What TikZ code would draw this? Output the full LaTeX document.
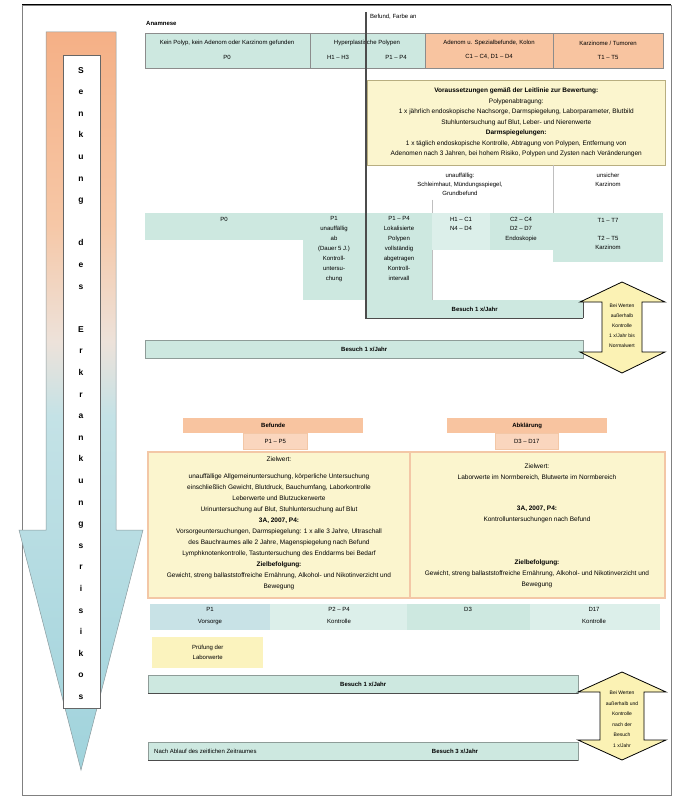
\documentclass[tikz,border=0pt]{standalone}
\usepackage{fontspec}
\setmainfont{Liberation Sans}
\usetikzlibrary{positioning,calc}

\definecolor{tealcell}{HTML}{CDE8E0}
\definecolor{tealpale}{HTML}{DCEFEA}
\definecolor{tealblue}{HTML}{C8E2E6}
\definecolor{peach}{HTML}{F8C4A0}
\definecolor{peachpale}{HTML}{FAD6BE}
\definecolor{cream}{HTML}{FBF5CE}
\definecolor{creamline}{HTML}{B8AE80}
\definecolor{salmon}{HTML}{F3C7A6}
\definecolor{notepale}{HTML}{FBF3BE}
\definecolor{arrowyellow}{HTML}{FBF2B4}
\definecolor{framegray}{HTML}{8E9C98}
\definecolor{arrowline}{HTML}{8A9A9E}
\definecolor{riskorange}{HTML}{F5B086}
\definecolor{riskpeach}{HTML}{F6C7A6}
\definecolor{riskpale}{HTML}{EDE2DA}
\definecolor{riskblue}{HTML}{C4E2E6}
\definecolor{riskdeep}{HTML}{A0D3DC}

\pgfdeclareverticalshading{riskfade}{100bp}{color(0bp)=(riskdeep); color(25bp)=(riskdeep); color(49bp)=(riskblue); color(54bp)=(riskpale); color(62bp)=(riskpeach); color(75bp)=(riskorange); color(100bp)=(riskorange)}

\begin{document}
\begin{tikzpicture}[x=1pt,y=-1pt,
    lbl/.style={font=\fontsize{6}{10.5}\selectfont,inner sep=0pt,align=center},
    band/.style={fill=tealcell,draw=framegray,line width=0.4pt},
    peachcell/.style={fill=peach,draw=framegray,line width=0.4pt},
    note/.style={lbl,fill=cream,draw=creamline,line width=0.5pt},
    bignote/.style={fill=cream,draw=salmon,line width=1.2pt},
    sep/.style={draw=black!25,line width=0.4pt},
    bar/.style={draw=black!70,line width=1.5pt},
    twoway/.style={fill=arrowyellow,draw=black,line width=0.8pt}]

    \useasboundingbox (0,0) rectangle (677,799);
    \fill[white] (0,0) rectangle (677,799);
    \draw[black!50,line width=0.5pt] (22,5) rectangle (671,795);
    \draw[black,line width=1pt] (22,5) -- (671,5);

    % risk arrow on the left
    \shadedraw[shading=riskfade,draw=arrowline,line width=0.5pt] (46,32) -- (116,32) -- (116,530) -- (143,530) -- (81,770) -- (19,530) -- (46,530) -- cycle;
    \draw[fill=white,draw=black!60,line width=0.4pt] (63,55) rectangle (100,708);
    \node[font=\fontsize{8.5}{21.6}\selectfont\bfseries,align=center,inner sep=0pt,anchor=north] (risk) at (81,67)
        {S\\e\\n\\k\\u\\n\\g\\~\\d\\e\\s\\~\\E\\r\\k\\r\\a\\n\\k\\u\\n\\g\\s\\r\\i\\s\\i\\k\\o\\s};

    % first row
    \node[lbl,anchor=west,font=\fontsize{6}{8}\selectfont\bfseries] (anamnese) at (146,23) {Anamnese};
    \node[lbl,anchor=west] (befund) at (370,17) {Befund, Farbe an};
    \draw[band,draw=black!45] (145,33) rectangle (425,68);
    \draw[peachcell,draw=black!45] (425,33) rectangle (663,68);
    \draw[draw=black!45] (310,33) -- (310,68);
    \draw[draw=black!45] (553,33) -- (553,68);
    \node[lbl] (keinPolyp) at (227,43) {Kein Polyp, kein Adenom oder Karzinom gefunden};
    \node[lbl] (pNull) at (227,57) {P0};
    \node[lbl] (hyper) at (367,43) {Hyperplastische Polypen};
    \node[lbl] (hRange) at (338,57) {H1 -- H3};
    \node[lbl] (pRange) at (396,57) {P1 -- P4};
    \node[lbl] (adenom) at (489,43) {Adenom u. Spezialbefunde, Kolon};
    \node[lbl] (cRange) at (489,57) {C1 -- C4, D1 -- D4};
    \node[lbl] (tumor) at (608,43) {Karzinome / Tumoren};
    \node[lbl] (tRange) at (608,57) {T1 -- T5};

    % guideline note
    \node[note,font=\fontsize{6.5}{10.5}\selectfont,minimum width=298pt,minimum height=85pt,anchor=north west] (advice) at (367,80)
        {\textbf{Voraussetzungen gemäß der Leitlinie zur Bewertung:}\\
         Polypenabtragung:\\
         1 x jährlich endoskopische Nachsorge, Darmspiegelung, Laborparameter, Blutbild\\
         Stuhluntersuchung auf Blut, Leber- und Nierenwerte\\
         \textbf{Darmspiegelungen:}\\
         1 x täglich endoskopische Kontrolle, Abtragung von Polypen, Entfernung von\\
         Adenomen nach 3 Jahren, bei hohem Risiko, Polypen und Zysten nach Veränderungen};
    \node[lbl,anchor=north] (unauff) at (460,173) {unauffällig:\\[-1.5pt]Schleimhaut, Mündungsspiegel,\\[-1.5pt]Grundbefund};
    \node[lbl,anchor=north] (unsicher) at (608,173) {unsicher\\[-1.5pt]Karzinom};
    \draw[sep] (553,165) -- (553,262);
    \draw[sep] (432,200) -- (432,300);

    % second row
    \draw[band,draw=none] (145,213) rectangle (303,240);
    \draw[band,draw=none] (303,213) rectangle (366,300);
    \draw[band,draw=none] (366,213) rectangle (432,300);
    \draw[band,draw=none,fill=tealpale] (432,213) rectangle (490,250);
    \draw[band,draw=none] (490,213) rectangle (553,250);
    \draw[band,draw=none] (553,213) rectangle (663,262);
    \node[lbl] (pNullB) at (224,219) {P0};
    \node[lbl,anchor=north,font=\fontsize{6}{10}\selectfont] (pOne) at (334,216)
        {P1\\unauffällig\\ab\\(Dauer 5 J.)\\Kontroll-\\untersu-\\chung};
    \node[lbl,anchor=north,font=\fontsize{6}{10}\selectfont] (pFour) at (399,216)
        {P1 -- P4\\Lokalisierte\\Polypen\\vollständig\\abgetragen\\Kontroll-\\intervall};
    \node[lbl,anchor=north,font=\fontsize{6}{9}\selectfont] (hcRange) at (461,217) {H1 -- C1\\N4 -- D4};
    \node[lbl,anchor=north,font=\fontsize{6}{9.5}\selectfont] (cdRange) at (521,217) {C2 -- C4\\D2 -- D7\\Endoskopie};
    \node[lbl] (tSeven) at (608,220) {T1 -- T7};
    \node[lbl,anchor=north,font=\fontsize{6}{9.5}\selectfont] (tFive) at (608,236) {T2 -- T5\\Karzinom};

    % yearly visits
    \coordinate (barTop) at (366,12);
    \node[lbl,font=\fontsize{6}{8}\selectfont\bfseries,fill=tealcell,minimum width=217pt,minimum height=18pt,anchor=north west] (visitA) at (366,300) {Besuch 1 x/Jahr};
    \draw[bar] (barTop) -- (visitA.south west) -- (visitA.south east);
    \draw[black!70,line width=0.8pt] (visitA.south east) -- (visitA.north east);
    \node[lbl,font=\fontsize{6}{8}\selectfont\bfseries,band,minimum width=438pt,minimum height=18pt,anchor=north west] (visitB) at (145,340) {Besuch 1 x/Jahr};

    \draw[twoway] (622,282) -- (665,302) -- (642,302) -- (642,352) -- (665,352) -- (622,373) -- (580,352) -- (602,352) -- (602,302) -- (580,302) -- cycle;
    \node[lbl,font=\fontsize{5}{10}\selectfont] (hintA) at (622,326) {Bei Werten\\außerhalb\\Kontrolle\\1 x/Jahr bis\\Normalwert};

    % lower part
    \node[lbl,font=\fontsize{6}{8}\selectfont\bfseries,fill=peach,minimum width=180pt,minimum height=15pt,anchor=north west] (befundeHead) at (183,418) {Befunde};
    \node[lbl,fill=peachpale,draw=salmon,minimum width=64pt,minimum height=16pt,anchor=north west] (befundeSub) at (243,433) {P1 -- P5};
    \node[lbl,font=\fontsize{6}{8}\selectfont\bfseries,fill=peach,minimum width=160pt,minimum height=15pt,anchor=north west] (abklHead) at (447,418) {Abklärung};
    \node[lbl,fill=peachpale,draw=salmon,minimum width=63pt,minimum height=16pt,anchor=north west] (abklSub) at (495,433) {D3 -- D17};

    \draw[bignote] (148,452) rectangle (410,598);
    \draw[bignote] (410,452) rectangle (665,598);
    \node[lbl,font=\fontsize{6.5}{11}\selectfont,anchor=north] (goalsLeft) at (279,457)
        {Zielwert:\\[6pt]
         unauffällige Allgemeinuntersuchung, körperliche Untersuchung\\
         einschließlich Gewicht, Blutdruck, Bauchumfang, Laborkontrolle\\
         Leberwerte und Blutzuckerwerte\\
         Urinuntersuchung auf Blut, Stuhluntersuchung auf Blut\\
         \textbf{3A, 2007, P4:}\\
         Vorsorgeuntersuchungen, Darmspiegelung: 1 x alle 3 Jahre, Ultraschall\\
         des Bauchraumes alle 2 Jahre, Magenspiegelung nach Befund\\
         Lymphknotenkontrolle, Tastuntersuchung des Enddarms bei Bedarf\\
         \textbf{Zielbefolgung:}\\
         Gewicht, streng ballaststoffreiche Ernährung, Alkohol- und Nikotinverzicht und\\
         Bewegung};
    \node[lbl,font=\fontsize{6.5}{11}\selectfont,anchor=north] (goalsRight) at (537,464)
        {Zielwert:\\
         Laborwerte im Normbereich, Blutwerte im Normbereich\\[20pt]
         \textbf{3A, 2007, P4:}\\
         Kontrolluntersuchungen nach Befund\\[32pt]
         \textbf{Zielbefolgung:}\\
         Gewicht, streng ballaststoffreiche Ernährung, Alkohol- und Nikotinverzicht und\\
         Bewegung};

    % third row
    \fill[tealblue] (150,604) rectangle (270,630);
    \fill[tealpale] (270,604) rectangle (407,630);
    \fill[tealcell] (407,604) rectangle (530,630);
    \fill[tealpale] (530,604) rectangle (660,630);
    \node[lbl,anchor=north,font=\fontsize{6}{12}\selectfont] (vorsorge) at (210,607) {P1\\Vorsorge};
    \node[lbl,anchor=north,font=\fontsize{6}{12}\selectfont] (kontrolleA) at (339,607) {P2 -- P4\\Kontrolle};
    \node[lbl,anchor=north,font=\fontsize{6}{12}\selectfont] (dThree) at (468,607) {D3};
    \node[lbl,anchor=north,font=\fontsize{6}{12}\selectfont] (kontrolleB) at (594,607) {D17\\Kontrolle};

    \node[lbl,font=\fontsize{6}{10}\selectfont,fill=notepale,minimum width=111pt,minimum height=31pt,anchor=north west] (pruefung) at (152,637) {Prüfung der\\Laborwerte};

    \node[lbl,font=\fontsize{6}{8}\selectfont\bfseries,band,minimum width=430pt,minimum height=18pt,anchor=north west] (visitC) at (148,675) {Besuch 1 x/Jahr};
    \draw[black!70,line width=1pt] (visitC.south west) -- (visitC.south east);
    \node[lbl,band,minimum width=430pt,minimum height=18pt,anchor=north west] (visitD) at (148,742) {};
    \draw[black!70,line width=1pt] (visitD.south west) -- (visitD.south east);
    \node[lbl,anchor=west] (nachAblauf) at ([xshift=6pt]visitD.west) {Nach Ablauf des zeitlichen Zeitraumes};
    \node[lbl,font=\fontsize{6}{8}\selectfont\bfseries] (visitThree) at (455,751) {Besuch 3 x/Jahr};

    \draw[twoway] (622,672) -- (666,692) -- (644,692) -- (644,740) -- (666,740) -- (622,760) -- (578,740) -- (600,740) -- (600,692) -- (578,692) -- cycle;
    \node[lbl,font=\fontsize{5}{10.5}\selectfont] (hintB) at (622,719) {Bei Werten\\außerhalb und\\Kontrolle\\nach der\\Besuch\\1 x/Jahr};
\end{tikzpicture}
\end{document}
